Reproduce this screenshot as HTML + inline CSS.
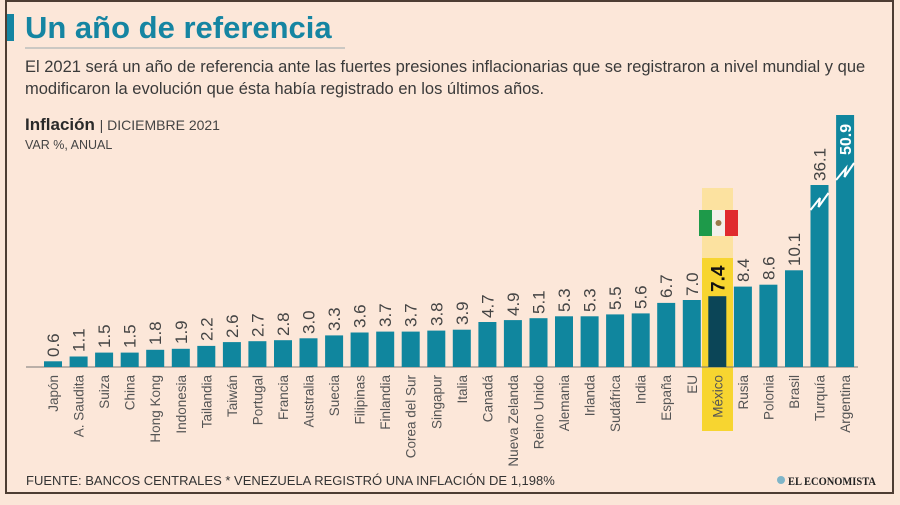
<!DOCTYPE html>
<html><head><meta charset="utf-8"><style>
body{margin:0;width:900px;height:500px;overflow:hidden;background:#fbe6d8;font-family:"Liberation Sans",sans-serif}
</style></head><body>
<svg width="900" height="500" viewBox="0 0 900 500" xmlns="http://www.w3.org/2000/svg" font-family="Liberation Sans, sans-serif">
<rect x="0" y="0" width="900" height="500" fill="#fbe6d8"/>
<rect x="6" y="1" width="887" height="492" fill="#fce7d9" stroke="#4d3d33" stroke-width="2"/>
<rect x="7" y="14" width="7" height="27" fill="#1585a2"/>
<text x="25" y="38" font-size="31" font-weight="bold" fill="#1585a2">Un año de referencia</text>
<line x1="25" y1="48" x2="345" y2="48" stroke="#9aa8ad" stroke-width="1"/>
<text x="25" y="72" font-size="16.5" fill="#3a3a3a">El 2021 será un año de referencia ante las fuertes presiones inflacionarias que se registraron a nivel mundial y que</text>
<text x="25" y="94" font-size="16.5" fill="#3a3a3a">modificaron la evolución que ésta había registrado en los últimos años.</text>
<text x="25" y="130" font-size="17" font-weight="bold" fill="#2a2a2a">Inflación <tspan font-weight="normal" font-size="14" fill="#444">| DICIEMBRE 2021</tspan></text>
<text x="25" y="149" font-size="12.5" fill="#444">VAR %, ANUAL</text>
<rect x="702" y="188" width="31" height="243" fill="#fbe07a" opacity="0.6"/>
<rect x="702" y="258" width="31" height="173" fill="#f7d530"/>
<rect x="699" y="210" width="13" height="26" fill="#1e9a4a"/>
<rect x="712" y="210" width="13" height="26" fill="#f3f0ea"/>
<rect x="725" y="210" width="13" height="26" fill="#e02a2e"/>
<circle cx="718.5" cy="223" r="3" fill="#9a7a4a"/>
<line x1="26" y1="367" x2="858" y2="367" stroke="#777" stroke-width="1"/>
<g fill="#10869e">
<rect x="44" y="361.3" width="18" height="5.7"/>
<rect x="69.6" y="356.5" width="18" height="10.5"/>
<rect x="95.1" y="352.6" width="18" height="14.4"/>
<rect x="120.7" y="352.6" width="18" height="14.4"/>
<rect x="146.2" y="349.8" width="18" height="17.2"/>
<rect x="171.8" y="348.8" width="18" height="18.2"/>
<rect x="197.3" y="345.9" width="18" height="21.1"/>
<rect x="222.9" y="342.1" width="18" height="24.9"/>
<rect x="248.4" y="341.2" width="18" height="25.8"/>
<rect x="274" y="340.2" width="18" height="26.8"/>
<rect x="299.5" y="338.3" width="18" height="28.7"/>
<rect x="325.1" y="335.4" width="18" height="31.6"/>
<rect x="350.6" y="332.5" width="18" height="34.5"/>
<rect x="376.2" y="331.6" width="18" height="35.4"/>
<rect x="401.7" y="331.6" width="18" height="35.4"/>
<rect x="427.3" y="330.6" width="18" height="36.4"/>
<rect x="452.8" y="329.7" width="18" height="37.3"/>
<rect x="478.4" y="322" width="18" height="45"/>
<rect x="503.9" y="320.1" width="18" height="46.9"/>
<rect x="529.5" y="318.2" width="18" height="48.8"/>
<rect x="555" y="316.3" width="18" height="50.7"/>
<rect x="580.6" y="316.3" width="18" height="50.7"/>
<rect x="606.1" y="314.4" width="18" height="52.6"/>
<rect x="631.7" y="313.4" width="18" height="53.6"/>
<rect x="657.2" y="302.9" width="18" height="64.1"/>
<rect x="682.8" y="300" width="18" height="67"/>
<rect x="733.9" y="286.6" width="18" height="80.4"/>
<rect x="759.4" y="284.7" width="18" height="82.3"/>
<rect x="785" y="270.3" width="18" height="96.7"/>
<rect x="810.5" y="185" width="18" height="182"/>
<rect x="836.1" y="115" width="18" height="252"/>
</g>
<rect x="708.3" y="296.2" width="18" height="70.8" fill="#0b4557"/>
<polyline points="810.5,210 820,198 818.5,207 828.5,193" fill="none" stroke="#fff" stroke-width="2"/>
<polyline points="836.1,180 846,168 844.5,177 854.1,163" fill="none" stroke="#fff" stroke-width="2"/>
<g font-size="17" fill="#444">
<text transform="translate(59,357) rotate(-90)">0.6</text>
<text transform="translate(84.6,352) rotate(-90)">1.1</text>
<text transform="translate(110.1,348) rotate(-90)">1.5</text>
<text transform="translate(135.7,348) rotate(-90)">1.5</text>
<text transform="translate(161.2,345) rotate(-90)">1.8</text>
<text transform="translate(186.8,344) rotate(-90)">1.9</text>
<text transform="translate(212.3,341) rotate(-90)">2.2</text>
<text transform="translate(237.9,338) rotate(-90)">2.6</text>
<text transform="translate(263.4,337) rotate(-90)">2.7</text>
<text transform="translate(289,336) rotate(-90)">2.8</text>
<text transform="translate(314.5,334) rotate(-90)">3.0</text>
<text transform="translate(340.1,331) rotate(-90)">3.3</text>
<text transform="translate(365.6,328) rotate(-90)">3.6</text>
<text transform="translate(391.2,327) rotate(-90)">3.7</text>
<text transform="translate(416.7,327) rotate(-90)">3.7</text>
<text transform="translate(442.3,326) rotate(-90)">3.8</text>
<text transform="translate(467.8,325) rotate(-90)">3.9</text>
<text transform="translate(493.4,318) rotate(-90)">4.7</text>
<text transform="translate(518.9,316) rotate(-90)">4.9</text>
<text transform="translate(544.5,314) rotate(-90)">5.1</text>
<text transform="translate(570,312) rotate(-90)">5.3</text>
<text transform="translate(595.6,312) rotate(-90)">5.3</text>
<text transform="translate(621.1,310) rotate(-90)">5.5</text>
<text transform="translate(646.7,309) rotate(-90)">5.6</text>
<text transform="translate(672.2,298) rotate(-90)">6.7</text>
<text transform="translate(697.8,296) rotate(-90)">7.0</text>
<text transform="translate(748.9,282) rotate(-90)">8.4</text>
<text transform="translate(774.4,280) rotate(-90)">8.6</text>
<text transform="translate(800,266) rotate(-90)">10.1</text>
<text transform="translate(825.5,181) rotate(-90)">36.1</text>
</g>
<text transform="translate(724.5,292) rotate(-90)" font-size="19" font-weight="bold" fill="#111">7.4</text>
<text transform="translate(851.1,155) rotate(-90)" font-size="16" font-weight="bold" fill="#fff">50.9</text>
<g font-size="13.5" fill="#555" text-anchor="end">
<text transform="translate(58,375) rotate(-90)">Japón</text>
<text transform="translate(83.6,375) rotate(-90)">A. Saudita</text>
<text transform="translate(109.1,375) rotate(-90)">Suiza</text>
<text transform="translate(134.7,375) rotate(-90)">China</text>
<text transform="translate(160.2,375) rotate(-90)">Hong Kong</text>
<text transform="translate(185.8,375) rotate(-90)">Indonesia</text>
<text transform="translate(211.3,375) rotate(-90)">Tailandia</text>
<text transform="translate(236.9,375) rotate(-90)">Taiwán</text>
<text transform="translate(262.4,375) rotate(-90)">Portugal</text>
<text transform="translate(288,375) rotate(-90)">Francia</text>
<text transform="translate(313.5,375) rotate(-90)">Australia</text>
<text transform="translate(339.1,375) rotate(-90)">Suecia</text>
<text transform="translate(364.6,375) rotate(-90)">Filipinas</text>
<text transform="translate(390.2,375) rotate(-90)">Finlandia</text>
<text transform="translate(415.7,375) rotate(-90)">Corea del Sur</text>
<text transform="translate(441.3,375) rotate(-90)">Singapur</text>
<text transform="translate(466.8,375) rotate(-90)">Italia</text>
<text transform="translate(492.4,375) rotate(-90)">Canadá</text>
<text transform="translate(517.9,375) rotate(-90)">Nueva Zelanda</text>
<text transform="translate(543.5,375) rotate(-90)">Reino Unido</text>
<text transform="translate(569,375) rotate(-90)">Alemania</text>
<text transform="translate(594.6,375) rotate(-90)">Irlanda</text>
<text transform="translate(620.1,375) rotate(-90)">Sudáfrica</text>
<text transform="translate(645.7,375) rotate(-90)">India</text>
<text transform="translate(671.2,375) rotate(-90)">España</text>
<text transform="translate(696.8,375) rotate(-90)">EU</text>
<text transform="translate(722.3,375) rotate(-90)">México</text>
<text transform="translate(747.9,375) rotate(-90)">Rusia</text>
<text transform="translate(773.4,375) rotate(-90)">Polonia</text>
<text transform="translate(799,375) rotate(-90)">Brasil</text>
<text transform="translate(824.5,375) rotate(-90)">Turquía</text>
<text transform="translate(850.1,375) rotate(-90)">Argentina</text>
</g>
<text x="26" y="485" font-size="13" fill="#333">FUENTE: BANCOS CENTRALES * VENEZUELA REGISTRÓ UNA INFLACIÓN DE 1,198%</text>
<circle cx="781" cy="480" r="4" fill="#7fb5c8"/>
<text x="788" y="485" font-size="12" font-weight="bold" font-family="Liberation Serif, serif" fill="#222" textLength="88" lengthAdjust="spacingAndGlyphs">EL ECONOMISTA</text>
</svg>
</body></html>
